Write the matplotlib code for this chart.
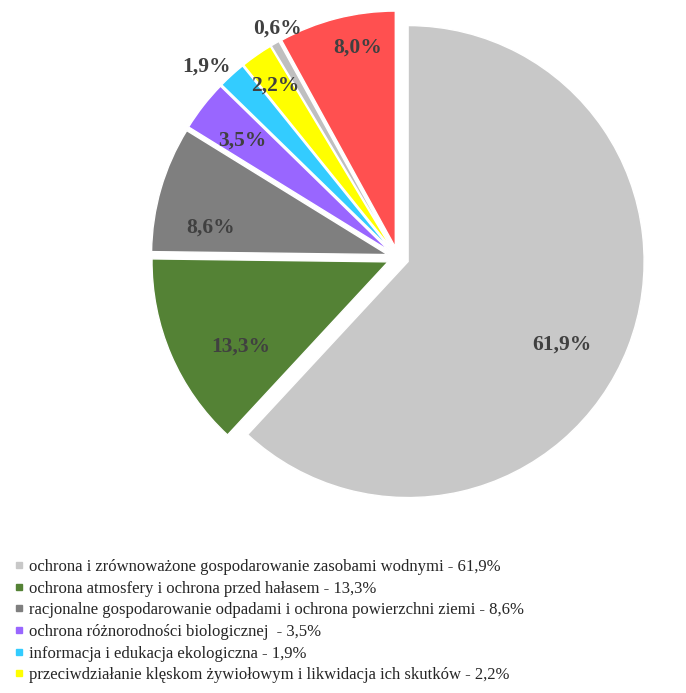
import matplotlib.pyplot as plt
from matplotlib.lines import Line2D
import numpy as np

plt.rcParams["font.family"] = ["Liberation Serif", "DejaVu Serif"]

categories = [
    "ochrona i zrównoważone gospodarowanie zasobami wodnymi - 61,9%",
    "ochrona atmosfery i ochrona przed hałasem - 13,3%",
    "racjonalne gospodarowanie odpadami i ochrona powierzchni ziemi - 8,6%",
    "ochrona różnorodności biologicznej  - 3,5%",
    "informacja i edukacja ekologiczna - 1,9%",
    "przeciwdziałanie klęskom żywiołowym i likwidacja ich skutków - 2,2%",
    "",
    "",
]
shares = [61.9, 13.3, 8.6, 3.5, 1.9, 2.2, 0.6, 8.0]
labels = ["61,9%", "13,3%", "8,6%", "3,5%", "1,9%", "2,2%", "0,6%", "8,0%"]
colors = ["#C8C8C8", "#548235", "#7F7F7F", "#9966FF", "#33CCFF", "#FFFF00",
          "#BFBFBF", "#FF5050"]
# value label placement: distance from slice centre (fraction of radius)
# and angular nudge from the slice mid-angle (degrees)
label_r = [0.74, 0.72, 0.76, 0.78, 1.10, 0.85, 1.05, 0.86]
label_dang = [-7.0, 6.6, 7.7, 1.1, 2.9, 0.6, -2.2, -3.8]
EXPLODE = 0.046

W, H = 686, 693
fig = plt.figure(figsize=(W / 100, H / 100), dpi=100)

R = 236  # pie radius in px
cx, cy = 398, 257.6
ax = fig.add_axes([(cx - 1.1 * R) / W, 1 - (cy + 1.1 * R) / H,
                   2.2 * R / W, 2.2 * R / H])

wedges, _ = ax.pie(
    shares,
    colors=colors,
    startangle=90,
    counterclock=False,
    explode=[EXPLODE] * len(shares),
    wedgeprops=dict(edgecolor="white", linewidth=1.0),
    radius=1.0,
)
ax.set_xlim(-1.1, 1.1)
ax.set_ylim(-1.1, 1.1)
ax.set_aspect("equal")
ax.axis("off")

for w, lab, r, da in zip(wedges, labels, label_r, label_dang):
    mid = np.deg2rad((w.theta1 + w.theta2) / 2)
    ox, oy = w.center
    ang = mid + np.deg2rad(da)
    ax.text(ox + r * np.cos(ang), oy + r * np.sin(ang), lab,
            ha="center", va="center",
            fontsize=15.5, fontweight="bold", color="#404040")

handles = []
for c, name in zip(colors[:6], categories[:6]):
    handles.append(Line2D([0], [0], marker="s", linestyle="", markersize=5,
                          markerfacecolor=c, markeredgecolor=c, label=name))

fig.legend(handles=handles, loc="upper left", bbox_to_anchor=(0.01, 0.203),
           frameon=False, fontsize=12, handlelength=0.6, handletextpad=0.3,
           labelspacing=0.34, borderaxespad=0, labelcolor="#262626")

fig.savefig("out.png", dpi=100)
